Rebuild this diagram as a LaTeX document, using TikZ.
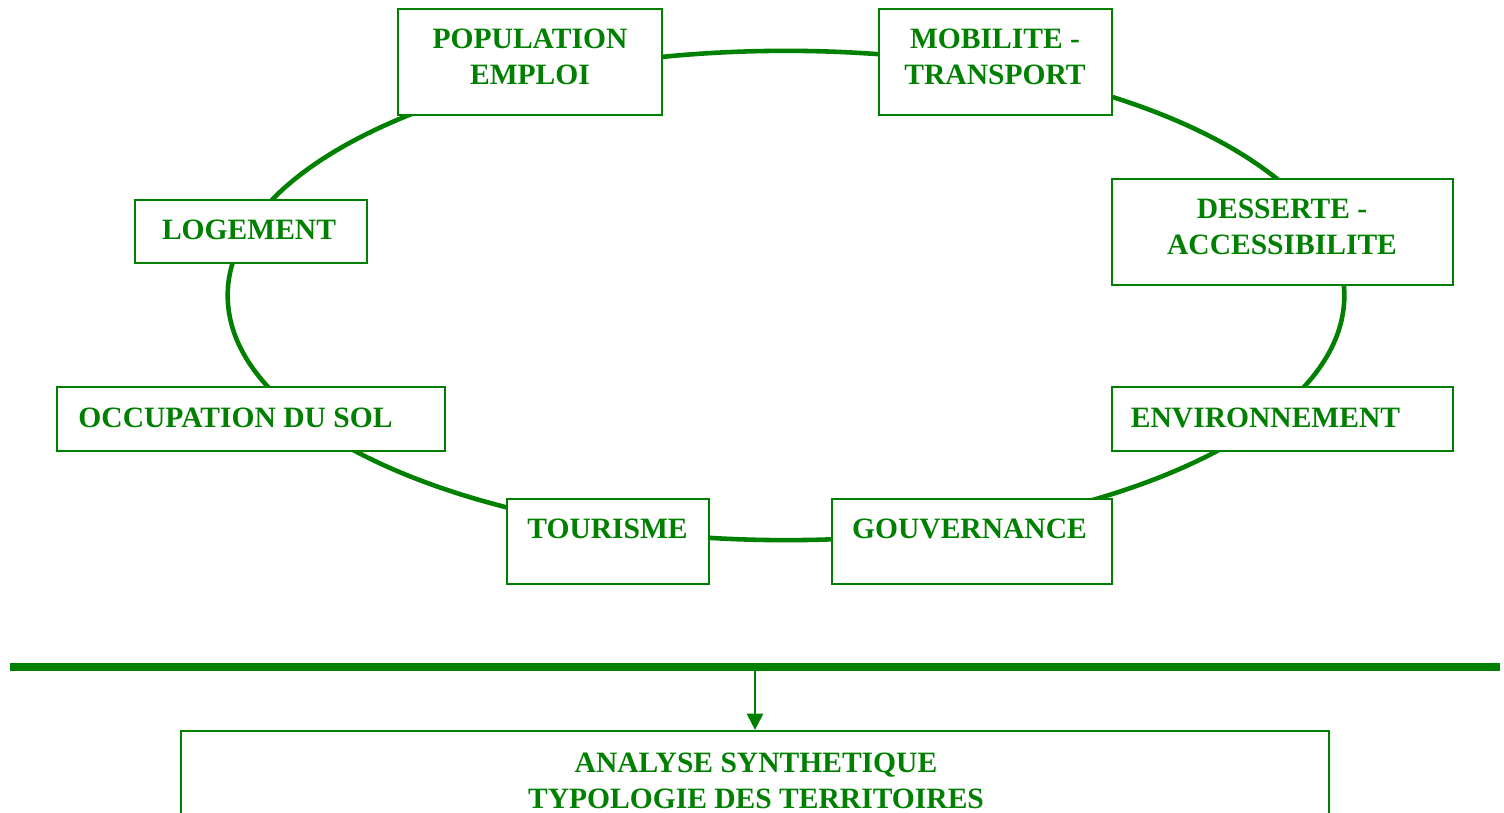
\documentclass[tikz,border=0pt]{standalone}
\usepackage{fontspec}
\setmainfont{Liberation Serif}
\usetikzlibrary{arrows.meta}
\definecolor{vert}{RGB}{0,128,0}

\begin{document}
\begin{tikzpicture}[x=0.01cm, y=-0.01cm,
  theme/.style={draw=vert, line width=0.6pt, fill=white, inner sep=0pt},
  lbl/.style={text=vert, font=\fontsize{8.4}{10.2}\selectfont\bfseries, align=center, inner sep=0pt}]
  \useasboundingbox (0,0) rectangle (1504,813);
  \clip (0,0) rectangle (1504,813);
  % Cycle of themes
  \draw[vert, line width=1.3pt] (786,295.5) ellipse [x radius=5.58cm, y radius=2.445cm];
  % Theme boxes
  \node[theme, minimum width=2.64cm, minimum height=1.06cm] (pop) at (530,62) {};
  \node[theme, minimum width=2.33cm, minimum height=1.06cm] (mob) at (995.5,62) {};
  \node[theme, minimum width=3.41cm, minimum height=1.06cm] (des) at (1282.5,232) {};
  \node[theme, minimum width=2.32cm, minimum height=0.63cm] (log) at (251,231.5) {};
  \node[theme, minimum width=3.88cm, minimum height=0.64cm] (occ) at (251,419) {};
  \node[theme, minimum width=3.41cm, minimum height=0.64cm] (env) at (1282.5,419) {};
  \node[theme, minimum width=2.02cm, minimum height=0.85cm] (tou) at (608,541.5) {};
  \node[theme, minimum width=2.80cm, minimum height=0.85cm] (gou) at (972,541.5) {};
  % Theme labels
  \node[lbl] (popT) at (530,56.5) {POPULATION\\EMPLOI};
  \node[lbl] (mobT) at (995,56.5) {MOBILITE -\\TRANSPORT};
  \node[lbl] (desT) at (1282,226.5) {DESSERTE -\\ACCESSIBILITE};
  \node[lbl] (logT) at (249,230) {LOGEMENT};
  \node[lbl] (occT) at (235.5,418) {OCCUPATION DU SOL};
  \node[lbl] (envT) at (1265.5,418) {ENVIRONNEMENT};
  \node[lbl] (touT) at (607.5,529) {TOURISME};
  \node[lbl] (gouT) at (969.5,529) {GOUVERNANCE};
  % Synthesis
  \coordinate (barL) at (10,667);
  \coordinate (barR) at (1500,667);
  \coordinate (barM) at (755,667);
  \draw[vert, line width=2pt] (barL) -- (barR);
  \node[theme, minimum width=11.48cm, minimum height=1.2cm] (syn) at (755,791) {};
  \draw[vert, line width=0.6pt, -{Triangle[width=4.6pt, length=4.6pt]}] (barM) -- (syn.north);
  \node[lbl] (synT) at (756,780.5) {ANALYSE SYNTHETIQUE\\TYPOLOGIE DES TERRITOIRES};
\end{tikzpicture}
\end{document}
